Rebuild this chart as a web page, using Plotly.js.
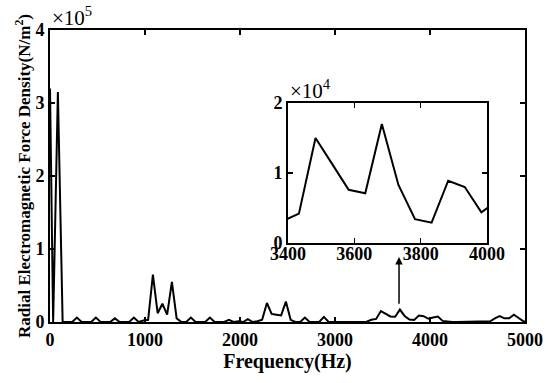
<!DOCTYPE html>
<html>
<head>
<meta charset="utf-8">
<script src="https://cdn.plot.ly/plotly-3.0.1.min.js"></script>
<style>html,body{margin:0;padding:0;background:#fff;}#chart{width:550px;height:383px;}</style>
</head>
<body>
<div id="chart"></div>
<script>
// Frequency (Hz)
const freq = [
  0, 33, 83, 133, 183, 233, 283, 333, 383, 433,
  483, 533, 583, 633, 683, 733, 783, 833, 883, 933,
  983, 1033, 1083, 1133, 1183, 1233, 1283, 1333, 1383, 1433,
  1483, 1533, 1583, 1633, 1683, 1733, 1783, 1833, 1883, 1933,
  1983, 2033, 2083, 2133, 2183, 2233, 2283, 2333, 2383, 2433,
  2483, 2533, 2583, 2633, 2683, 2733, 2783, 2833, 2883, 2933,
  2983, 3033, 3083, 3133, 3183, 3233, 3283, 3333, 3383, 3433,
  3483, 3533, 3583, 3633, 3683, 3733, 3783, 3833, 3883, 3933,
  3983, 4033, 4083, 4133, 4183, 4233, 4283, 4333, 4383, 4433,
  4483, 4533, 4583, 4633, 4683, 4733, 4783, 4833, 4883, 4933,
  4983, 5033
];
// Radial electromagnetic force density (N/m^2)
const force = [
  320000, 0, 315000, 0, 0, 0, 6000, 0, 0, 0,
  6000, 0, 0, 0, 5000, 0, 0, 0, 6000, 0,
  2000, 3000, 65000, 12000, 25000, 10000, 55000, 5000, 0, 0,
  6000, 0, 0, 0, 6000, 0, 0, 0, 3000, 0,
  1000, 0, 4000, 0, 1000, 3000, 26000, 11000, 10000, 9000,
  28000, 3000, 0, 0, 6000, 0, 0, 0, 7000, 0,
  0, 0, 0, 0, 0, 0, 0, 500, 3100, 4200,
  15000, 11300, 7600, 7100, 17000, 8300, 3400, 2900, 8900, 8000,
  4400, 6100, 7500, 1500, 500, 0, 0, 0, 0, 0,
  0, 0, 0, 1000, 5000, 8000, 5000, 5000, 10000, 6000,
  1000, 0
];
const mainXTicks = [0, 1000, 2000, 3000, 4000, 5000];
const mainYTickVals = [0, 100000, 200000, 300000, 400000];
const mainYTickText = ['0', '1', '2', '3', '4'];
const insetXTicks = [3400, 3600, 3800, 4000];
const insetYTickVals = [0, 10000, 20000];
const insetYTickText = ['0', '1', '2'];
const arrowFreq = 3674;

const FONT = 'Liberation Serif, Times New Roman, serif';
const tickFont = {family: FONT, size: 18, color: '#000', weight: 'bold'};

function axisBase(extra) {
  return Object.assign({
    showline: true, linewidth: 2, linecolor: '#000', mirror: 'ticks',
    ticks: 'inside', ticklen: 5, tickwidth: 1.5, tickcolor: '#000',
    showgrid: false, zeroline: false, tickfont: tickFont
  }, extra);
}

const traces = [
  {x: freq, y: force, type: 'scatter', mode: 'lines', line: {color: '#000', width: 2}, xaxis: 'x', yaxis: 'y', hoverinfo: 'none'},
  {x: freq, y: force, type: 'scatter', mode: 'lines', line: {color: '#000', width: 2}, xaxis: 'x2', yaxis: 'y2', hoverinfo: 'none'}
];

const layout = {
  width: 550, height: 383,
  margin: {l: 50, r: 25, t: 30, b: 61},
  paper_bgcolor: '#fff', plot_bgcolor: '#fff',
  showlegend: false,
  xaxis: axisBase({range: [0, 5000], tickvals: mainXTicks, ticktext: mainXTicks.map(String),
    title: {text: 'Frequency(Hz)', font: {family: FONT, size: 20, color: '#000', weight: 'bold'}, standoff: 2}}),
  yaxis: axisBase({range: [0, 400000], tickvals: mainYTickVals, ticktext: mainYTickText,
    title: {text: 'Radial Electromagnetic Force Density(N/m<sup>2</sup>)', font: {family: FONT, size: 17, color: '#000', weight: 'bold'}, standoff: 0}}),
  xaxis2: axisBase({domain: [0.501, 0.92], anchor: 'y2', range: [3400, 4000], tickvals: insetXTicks, ticktext: insetXTicks.map(String), ticklabelstandoff: -7}),
  yaxis2: axisBase({domain: [0.2705, 0.75], anchor: 'x2', range: [0, 20000], tickvals: insetYTickVals, ticktext: insetYTickText}),
  annotations: [
    {xref: 'paper', yref: 'paper', x: 0, y: 1, xanchor: 'left', yanchor: 'bottom', yshift: -2, showarrow: false,
     text: '×10<sup>5</sup>', font: {family: FONT, size: 21, color: '#000'}},
    {xref: 'x2 domain', yref: 'y2 domain', x: 0, y: 1, xanchor: 'left', yanchor: 'bottom', yshift: -2, showarrow: false,
     text: '×10<sup>4</sup>', font: {family: FONT, size: 21, color: '#000'}},
    {xref: 'x', yref: 'y', x: arrowFreq, y: 89000, axref: 'x', ayref: 'y', ax: arrowFreq, ay: 23000,
     showarrow: true, arrowhead: 2, arrowsize: 1, arrowwidth: 1.5, arrowcolor: '#000', text: ''}
  ]
};

Plotly.newPlot('chart', traces, layout, {displayModeBar: false, staticPlot: true});
</script>
</body>
</html>
